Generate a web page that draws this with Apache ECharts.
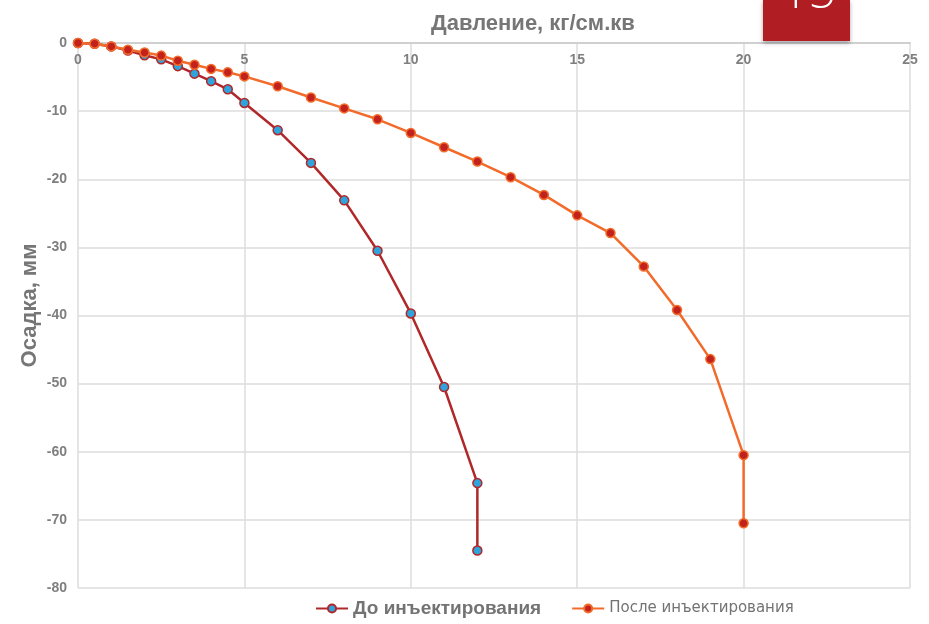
<!DOCTYPE html>
<html>
<head>
<meta charset="utf-8">
<script src="https://cdn.jsdelivr.net/npm/echarts@6/dist/echarts.min.js"></script>
<style>
  html, body { margin: 0; padding: 0; background: #fff; }
  #chart { width: 929px; height: 624px; }
</style>
</head>
<body>
<div id="chart"></div>
<script>
// Давление, кг/см.кв
var pressureBefore = [0, 0.5, 1, 1.5, 2, 2.5, 3, 3.5, 4, 4.5, 5, 6, 7, 8, 9, 10, 11, 12, 12];
var settleBefore = [0, -0.1, -0.5, -1.1, -1.8, -2.4, -3.4, -4.5, -5.6, -6.8, -8.8, -12.8, -17.6, -23.1, -30.5, -39.7, -50.5, -64.6, -74.5];

var pressureAfter = [0, 0.5, 1, 1.5, 2, 2.5, 3, 3.5, 4, 4.5, 5, 6, 7, 8, 9, 10, 11, 12, 13, 14, 15, 16, 17, 18, 19, 20, 20];
var settleAfter = [0, -0.1, -0.5, -1.0, -1.4, -1.85, -2.6, -3.2, -3.8, -4.3, -4.9, -6.35, -8.0, -9.6, -11.2, -13.2, -15.3, -17.4, -19.7, -22.3, -25.3, -27.9, -32.8, -39.2, -46.4, -60.5, -70.5];

var seriesNames = ["До инъектирования", "После инъектирования"];
var slideNumber = "15";

function pairs(xs, ys) {
    var out = [];
    for (var i = 0; i < xs.length; i++) {
        out.push([xs[i], ys[i]]);
    }
    return out;
}

var labelColor = "#7f7f7f";

var option = {
    animation: false,
    backgroundColor: "#ffffff",
    title: {
        text: "Давление, кг/см.кв",
        left: 426,
        top: 8,
        textStyle: {
            fontFamily: "Liberation Sans",
            fontSize: 22,
            fontWeight: "bold",
            color: "#767676"
        }
    },
    grid: {
        left: 78,
        right: 19,
        top: 43,
        bottom: 36
    },
    legend: {
        bottom: 1,
        left: 310,
        itemWidth: 32,
        itemHeight: 10,
        itemGap: 30,
        data: seriesNames,
        formatter: function (name) {
            return name === seriesNames[0] ? "{a|" + name + "}" : "{b|" + name + "}";
        },
        textStyle: {
            rich: {
                a: {
                    fontFamily: "Liberation Sans",
                    fontSize: 19,
                    fontWeight: "bold",
                    color: "#737373"
                },
                b: {
                    fontFamily: "DejaVu Sans",
                    fontSize: 15,
                    color: "#737373"
                }
            }
        }
    },
    xAxis: {
        type: "value",
        position: "top",
        min: 0,
        max: 25,
        interval: 5,
        axisLine: { show: true, lineStyle: { color: "#d0d0d0", width: 2 } },
        axisTick: { show: false },
        splitLine: { show: true, lineStyle: { color: "#dcdcdc", width: 1.5 } },
        axisLabel: {
            inside: true,
            margin: 10,
            fontFamily: "Liberation Sans",
            fontSize: 14,
            fontWeight: "bold",
            color: labelColor
        }
    },
    yAxis: {
        type: "value",
        min: -80,
        max: 0,
        interval: 10,
        name: "Осадка, мм",
        nameLocation: "middle",
        nameRotate: 90,
        nameGap: 37,
        nameMoveOverlap: false,
        nameTextStyle: {
            fontFamily: "Liberation Sans",
            fontSize: 22,
            fontWeight: "bold",
            color: "#767676",
            padding: [0, 0, 0, 20]
        },
        axisLine: { show: false },
        axisTick: { show: false },
        splitLine: { show: true, lineStyle: { color: "#dcdcdc", width: 1.5 } },
        axisLabel: {
            margin: 11,
            fontFamily: "Liberation Sans",
            fontSize: 14,
            fontWeight: "bold",
            color: labelColor
        }
    },
    series: [
        {
            name: seriesNames[0],
            type: "line",
            data: pairs(pressureBefore, settleBefore),
            symbol: "circle",
            symbolSize: 9,
            lineStyle: { color: "#b0282a", width: 2.5 },
            itemStyle: { color: "#2ea4dc", borderColor: "#b0282a", borderWidth: 1.5 },
            z: 2
        },
        {
            name: seriesNames[1],
            type: "line",
            data: pairs(pressureAfter, settleAfter),
            symbol: "circle",
            symbolSize: 9,
            lineStyle: { color: "#f26b2a", width: 2.5 },
            itemStyle: { color: "#c2211c", borderColor: "#f26b2a", borderWidth: 1.5 },
            z: 3
        }
    ],
    graphic: [
        {
            type: "rect",
            left: 763,
            top: 0,
            shape: { width: 87, height: 41 },
            style: {
                fill: "#b01e23",
                shadowBlur: 4,
                shadowOffsetY: 2,
                shadowColor: "rgba(0,0,0,0.35)"
            },
            z: 10
        },
        {
            type: "text",
            left: 781,
            top: -30,
            style: {
                text: slideNumber,
                font: "300 48px 'Open Sans'",
                fill: "#ffffff"
            },
            z: 11
        }
    ]
};

var chart = echarts.init(document.getElementById("chart"));
chart.setOption(option);
</script>
</body>
</html>
